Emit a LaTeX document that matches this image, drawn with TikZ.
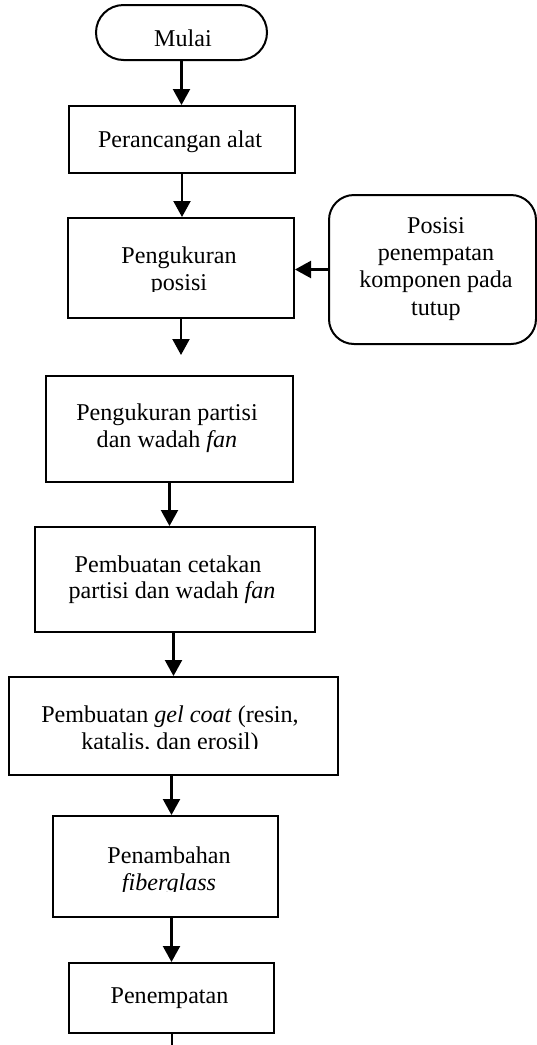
\documentclass[tikz,border=0pt]{standalone}
\usepackage{fontspec}
\setmainfont{Liberation Serif}
\usetikzlibrary{arrows.meta}
\begin{document}
\begin{tikzpicture}[x=1pt,y=-1pt,
  box/.style={draw,line width=2pt,rectangle,inner sep=0pt},
  txt/.style={anchor=base,inner sep=0pt,font=\fontsize{24.1}{27.5}\selectfont},
  arr/.style={line width=2.2pt,-{Triangle[length=16pt,width=17pt]}},
  plain/.style={line width=2.2pt}]
\useasboundingbox (0,0) rectangle (537,1045);
% boxes
\node[box,rounded corners=27.5pt,minimum width=171pt,minimum height=55pt] (start) at (181.5,32.5) {};
\node[box,minimum width=226pt,minimum height=67pt] (b1) at (182,139.5) {};
\node[box,minimum width=226pt,minimum height=100pt] (b2) at (181,268) {};
\node[box,rounded corners=25pt,minimum width=207pt,minimum height=149pt] (side) at (432.5,269.5) {};
\node[box,minimum width=247pt,minimum height=106pt] (b3) at (169.5,429) {};
\node[box,minimum width=280pt,minimum height=105pt] (b4) at (175,579.5) {};
\node[box,minimum width=329pt,minimum height=98pt] (b5) at (173.5,726) {};
\node[box,minimum width=225pt,minimum height=101pt] (b6) at (165.5,866.5) {};
\node[box,minimum width=205pt,minimum height=70pt] (b7) at (171.5,998) {};
% texts
\node[txt] (t0) at (183,46) {Mulai};
\node[txt] (t1) at (180,147) {Perancangan alat};
\node[txt] (t2a) at (179,263) {Pengukuran};
\begin{scope}
  \clip (70,265) rectangle (292,291);
  \node[txt] (t2b) at (179,290) {posisi};
\end{scope}
\node[txt] (s1) at (436,233) {Posisi};
\node[txt] (s2) at (436,260) {penempatan};
\node[txt] (s3) at (436,287) {komponen pada};
\node[txt] (s4) at (436,315) {tutup};
\node[txt] (t3a) at (167,420) {Pengukuran partisi};
\node[txt] (t3b) at (167,447) {dan wadah \textit{fan}};
\node[txt] (t4a) at (168,572) {Pembuatan cetakan};
\node[txt] (t4b) at (172,598) {partisi dan wadah \textit{fan}};
\node[txt] (t5a) at (170,722) {Pembuatan \textit{gel coat} (resin,};
\begin{scope}
  \clip (12,725) rectangle (335,748);
  \node[txt] (t5b) at (170,749) {katalis, dan erosil)};
\end{scope}
\node[txt] (t6a) at (169,863) {Penambahan};
\begin{scope}
  \clip (56,866) rectangle (275,891);
  \node[txt] (t6b) at (169,890) {\textit{fiberglass}};
\end{scope}
\node[txt] (t7) at (169.5,1003) {Penempatan};
% connectors
\coordinate (e2) at (181,355);
\coordinate (e7) at (172,1045);
\draw[arr] (start.south) -- (start.south |- b1.north);
\draw[arr] (b1.south) -- (b1.south |- b2.north);
\draw[arr] (side.west) -- (side.west -| b2.east);
\draw[arr] (b2.south) -- (e2);
\draw[arr] (b3.south) -- (b3.south |- b4.north);
\draw[arr] (b5.north |- b4.south) -- (b5.north);
\draw[arr] (b7.north |- b5.south) -- (b7.north |- b6.north);
\draw[arr] (b7.north |- b6.south) -- (b7.north);
\draw[plain] (b7.south -| e7) -- (e7);
\end{tikzpicture}
\end{document}
